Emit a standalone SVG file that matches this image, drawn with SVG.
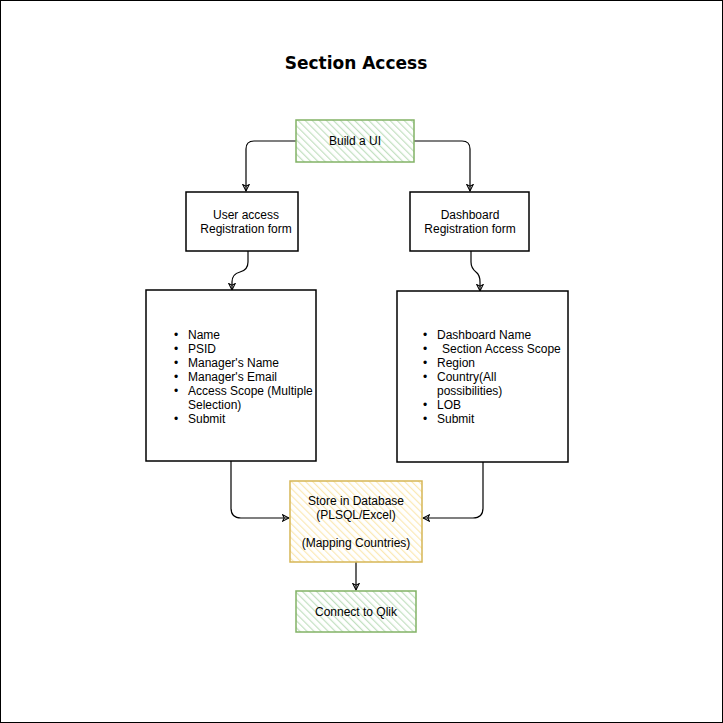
<svg xmlns="http://www.w3.org/2000/svg" width="723" height="723" viewBox="0 0 723 723">
<style>
text{font-family:"Liberation Sans",Arial,sans-serif;font-size:12px;fill:#000}
.c{text-anchor:middle}
.box{fill:#fff;stroke:#000;stroke-width:1.5}
.conn{fill:none;stroke:#000;stroke-width:1.2}
</style>
<defs>
<pattern id="hg" patternUnits="userSpaceOnUse" width="5" height="5" patternTransform="rotate(-45)">
<rect width="5" height="5" fill="#fff"/>
<line x1="0" y1="0" x2="0" y2="5" stroke="#c2e0c0" stroke-width="2.4"/>
</pattern>
<pattern id="hy" patternUnits="userSpaceOnUse" width="5" height="5" patternTransform="rotate(-45)">
<rect width="5" height="5" fill="#fff"/>
<line x1="0" y1="0" x2="0" y2="5" stroke="#fbe9b4" stroke-width="2.4"/>
</pattern>
<marker id="ar" viewBox="0 0 10 10" refX="9" refY="5" markerWidth="8" markerHeight="8" orient="auto" markerUnits="userSpaceOnUse">
<path d="M1,1 L9,5 L1,9 L3,5 Z" fill="none" stroke="#000" stroke-width="1.3"/>
</marker>
</defs>
<rect x="0.5" y="0.5" width="722" height="722" fill="#fff" stroke="#000"/>
<text x="356" y="69" class="c" style="font-family:'DejaVu Sans',sans-serif;font-weight:bold;font-size:17px">Section Access</text>
<g id="connectors">
<path class="conn" d="M296,141 H254 Q246,141 246,149 V191" marker-end="url(#ar)"/>
<path class="conn" d="M414,141 H462 Q470,141 470,149 V191" marker-end="url(#ar)"/>
<path class="conn" d="M248,251 V262 Q248,270 240,272 Q232,274 232,282 V290" marker-end="url(#ar)"/>
<path class="conn" d="M471,251 V262 Q471,268 476,272 Q480,275 480,282 V291" marker-end="url(#ar)"/>
<path class="conn" d="M231,461 V508 Q231,518 241,518 H289" marker-end="url(#ar)"/>
<path class="conn" d="M483,462 V508 Q483,518 473,518 H423" marker-end="url(#ar)"/>
<path class="conn" d="M356,562 V590" marker-end="url(#ar)"/>
</g>
<g id="build-ui">
<rect x="296" y="120" width="118" height="42" fill="url(#hg)" stroke="#82b366" stroke-width="1.5"/>
<text x="355" y="145" class="c">Build a UI</text>
</g>
<g id="user-access">
<rect x="186" y="192" width="112" height="59" class="box"/>
<text x="246" y="219" class="c">User access</text>
<text x="246" y="233" class="c">Registration form</text>
</g>
<g id="dashboard">
<rect x="410" y="192" width="119" height="59" class="box"/>
<text x="470" y="219" class="c">Dashboard</text>
<text x="470" y="233" class="c">Registration form</text>
</g>
<g id="user-list">
<rect x="146" y="290" width="170" height="171" class="box"/>
<text x="174" y="339">•</text><text x="188" y="339">Name</text>
<text x="174" y="353">•</text><text x="188" y="353">PSID</text>
<text x="174" y="367">•</text><text x="188" y="367">Manager's Name</text>
<text x="174" y="381">•</text><text x="188" y="381">Manager's Email</text>
<text x="174" y="395">•</text><text x="188" y="395">Access Scope (Multiple</text>
<text x="188" y="409">Selection)</text>
<text x="174" y="423">•</text><text x="188" y="423">Submit</text>
</g>
<g id="dashboard-list">
<rect x="397" y="291" width="171" height="171" class="box"/>
<text x="423" y="339">•</text><text x="437" y="339">Dashboard Name</text>
<text x="423" y="353">•</text><text x="442" y="353">Section Access Scope</text>
<text x="423" y="367">•</text><text x="437" y="367">Region</text>
<text x="423" y="381">•</text><text x="437" y="381">Country(All</text>
<text x="437" y="395">possibilities)</text>
<text x="423" y="409">•</text><text x="437" y="409">LOB</text>
<text x="423" y="423">•</text><text x="437" y="423">Submit</text>
</g>
<g id="store">
<rect x="290" y="481" width="132" height="81" fill="url(#hy)" stroke="#d6b656" stroke-width="1.5"/>
<text x="356" y="505" class="c">Store in Database</text>
<text x="356" y="519" class="c">(PLSQL/Excel)</text>
<text x="356" y="547" class="c">(Mapping Countries)</text>
</g>
<g id="qlik">
<rect x="296" y="591" width="120" height="41" fill="url(#hg)" stroke="#82b366" stroke-width="1.5"/>
<text x="356" y="616" class="c">Connect to Qlik</text>
</g>
</svg>
